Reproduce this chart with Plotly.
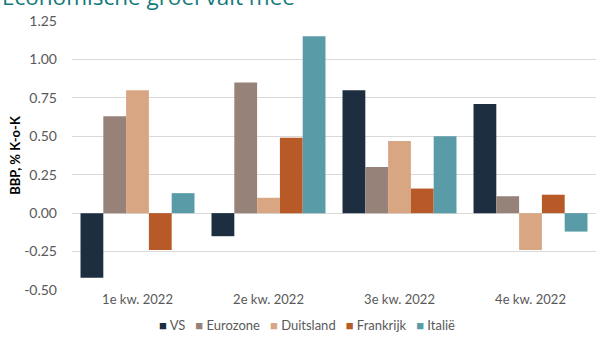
import plotly.graph_objects as go

categories = ["1e kw. 2022", "2e kw. 2022", "3e kw. 2022", "4e kw. 2022"]
series_names = ["VS", "Eurozone", "Duitsland", "Frankrijk", "Italië"]
vs = [-0.42, -0.15, 0.80, 0.71]
eurozone = [0.63, 0.85, 0.30, 0.11]
duitsland = [0.80, 0.10, 0.47, -0.24]
frankrijk = [-0.24, 0.49, 0.16, 0.12]
italie = [0.13, 1.15, 0.50, -0.12]
colors = ["#1c2e40", "#978279", "#d9a683", "#b85a27", "#5a9ba8"]
tick_vals = [-0.5, -0.25, 0, 0.25, 0.5, 0.75, 1.0, 1.25]
tick_text = ["-0.50", "-0.25", "0.00", "0.25", "0.50", "0.75", "1.00", "1.25"]
title_text = "Economische groei valt mee"
y_title = "BBP, % K-o-K"

W, H = 596, 344
ML, MR, MT, MB = 72, 0, 21, 54
PW, PH = W - ML - MR, H - MT - MB


def px_x(fx):
    return (fx - ML) / PW


def px_y(fy):
    return (MT + PH - fy) / PH


fig = go.Figure()
for name, vals, col in zip(series_names, [vs, eurozone, duitsland, frankrijk, italie], colors):
    fig.add_trace(go.Bar(x=categories, y=vals, name=name, marker=dict(color=col, line=dict(width=0))))

font_family = "Lato, 'Open Sans', sans-serif"
fig.update_layout(
    width=W, height=H,
    margin=dict(l=ML, r=MR, t=MT, b=MB, autoexpand=False),
    paper_bgcolor="white", plot_bgcolor="white",
    barmode="group", bargap=0.13, bargroupgap=0,
    font=dict(family=font_family, size=13, color="#595959"),
    showlegend=False,
)

# cropped title at the very top
fig.add_annotation(text=title_text, xref="paper", yref="paper",
                   x=px_x(0), y=px_y(-3.5), xanchor="left", yanchor="middle",
                   showarrow=False,
                   font=dict(size=22.5, color="#137a7c", family="'Open Sans', sans-serif"))

# legend drawn as one centered text line
legend_parts = [f"<span style='color:{c}'>■</span> {n}" for n, c in zip(series_names, colors)]
fig.add_annotation(text="   ".join(legend_parts), xref="paper", yref="paper",
                   x=px_x(307), y=px_y(325), xanchor="center", yanchor="middle",
                   showarrow=False, font=dict(size=13, color="#595959", family=font_family))

fig.update_xaxes(showgrid=False, showline=False, ticks="", automargin=False,
                 tickfont=dict(size=13, color="#595959"))
fig.update_yaxes(range=[-0.5, 1.25], tickvals=tick_vals, ticktext=tick_text, showgrid=True,
                 gridcolor="#d9d9d9", gridwidth=1, zeroline=True, zerolinecolor="#d9d9d9", zerolinewidth=1,
                 showline=False, ticks="", automargin=False, ticklabelstandoff=14,
                 tickfont=dict(size=14, color="#595959"),
                 title=dict(text=f"<b>{y_title}</b>", font=dict(size=13, color="#000000"), standoff=0))

fig.write_html("out.html", config={"displayModeBar": False},
               post_script="document.body.style.margin='0';")
